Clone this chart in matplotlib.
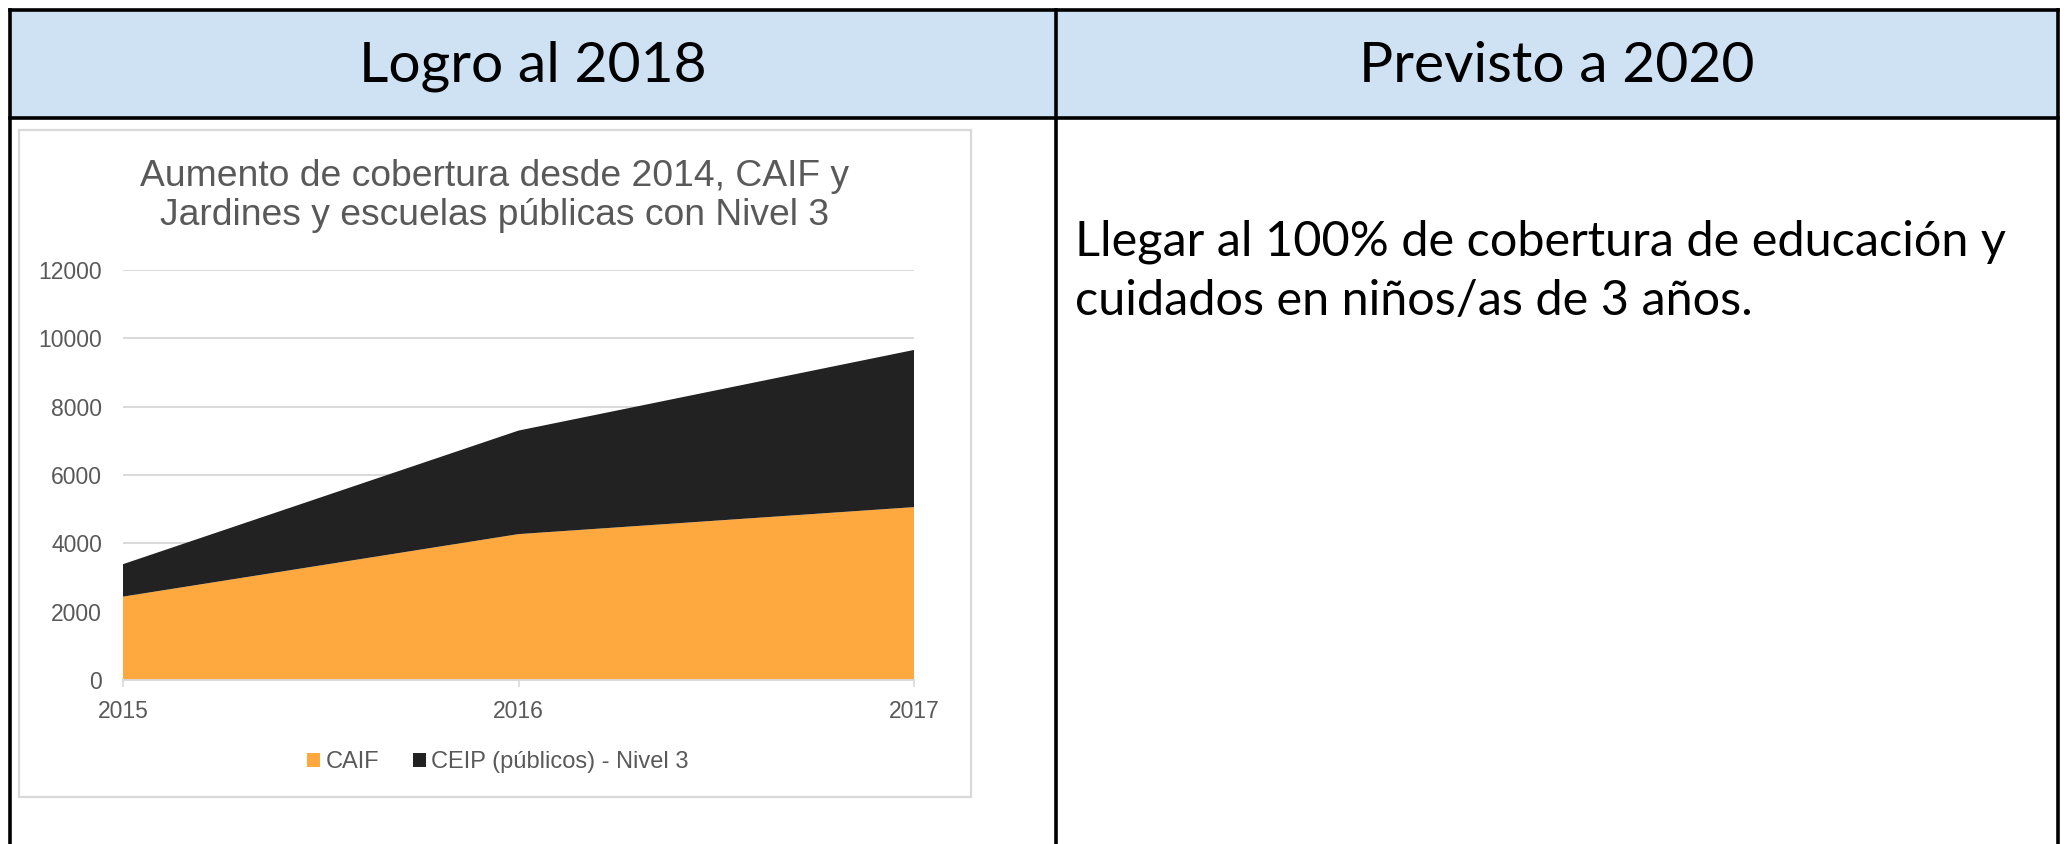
import matplotlib.pyplot as plt
from matplotlib.patches import Rectangle, Patch
from matplotlib.lines import Line2D

# data
years = [2015, 2016, 2017]
caif = [2440, 4270, 5060]
ceip = [950, 3030, 4600]
series_names = ["CAIF", "CEIP (públicos) - Nivel 3"]
series_colors = ["#FDA940", "#222222"]
yticks = [0, 2000, 4000, 6000, 8000, 10000, 12000]

chart_title = "Aumento de cobertura desde 2014, CAIF y\nJardines y escuelas públicas con Nivel 3"
header_left = "Logro al 2018"
header_right = "Previsto a 2020"
goal_text = "Llegar al 100% de cobertura de educación y\ncuidados en niños/as de 3 años."

W, H = 2069, 844
fig = plt.figure(figsize=(W / 100, H / 100), dpi=100)
fig.patch.set_facecolor("white")


def fx(px):
    return px / W


def fy(py):
    # pixel rows are counted from the top
    return 1 - py / H


# table: header band and borders
fig.add_artist(Rectangle((fx(10), fy(118)), fx(2058 - 10), (118 - 10) / H,
                         transform=fig.transFigure, facecolor="#CFE2F3", edgecolor="none", zorder=0))
border = dict(transform=fig.transFigure, color="black", lw=2.6, zorder=5)
fig.add_artist(Line2D([fx(10), fx(2058)], [fy(10), fy(10)], **border))
fig.add_artist(Line2D([fx(10), fx(2058)], [fy(118), fy(118)], **border))
for xp in [10, 1056, 2058]:
    fig.add_artist(Line2D([fx(xp), fx(xp)], [fy(10), fy(850)], **border))

fig.text(fx(533), fy(66), header_left, ha="center", va="center", fontsize=41, family="Lato")
fig.text(fx(1557), fy(66), header_right, ha="center", va="center", fontsize=41, family="Lato")
fig.text(fx(1075), fy(271), goal_text, ha="left", va="center", fontsize=35, family="Lato",
         linespacing=1.42)

# chart frame
fig.add_artist(Rectangle((fx(19), fy(797)), fx(971 - 19), (797 - 130) / H,
                         transform=fig.transFigure, facecolor="white", edgecolor="#D9D9D9", lw=1.6, zorder=1))
fig.text(fx(495), fy(196), chart_title, ha="center", va="center", fontsize=26.8,
         family="Liberation Sans", color="#595959", linespacing=1.12)

ax = fig.add_axes([fx(123), fy(680), fx(914 - 123), (680 - 270) / H], zorder=2)
ax.set_facecolor("none")
ax.stackplot(years, caif, ceip, colors=series_colors, zorder=2)
ax.set_xlim(years[0], years[-1])
ax.set_ylim(yticks[0], yticks[-1])
ax.set_yticks(yticks)
ax.set_xticks(years)
ax.grid(axis="y", color="#D9D9D9", lw=1.4, zorder=0)
ax.set_axisbelow(True)
for side in ["top", "right", "left"]:
    ax.spines[side].set_visible(False)
ax.spines["bottom"].set_color("#D9D9D9")
ax.spines["bottom"].set_linewidth(1.4)
ax.spines["bottom"].set_zorder(3)
ax.tick_params(axis="y", length=0, pad=15, labelsize=16.5, labelcolor="#595959")
ax.tick_params(axis="x", length=5, width=1.2, color="#D9D9D9", pad=9.5, labelsize=16.5,
               labelcolor="#595959")
for lab in ax.get_xticklabels() + ax.get_yticklabels():
    lab.set_family("Liberation Sans")

handles = [Patch(facecolor=c, edgecolor="none") for c in series_colors]
leg = fig.legend(handles, series_names, loc="center", bbox_to_anchor=(fx(498), fy(762)),
                 ncol=2, frameon=False, handlelength=0.55, handleheight=0.55,
                 handletextpad=0.25, columnspacing=1.4,
                 prop={"family": "Liberation Sans", "size": 17})
for t in leg.get_texts():
    t.set_color("#595959")

fig.savefig("out.png", dpi=100)
